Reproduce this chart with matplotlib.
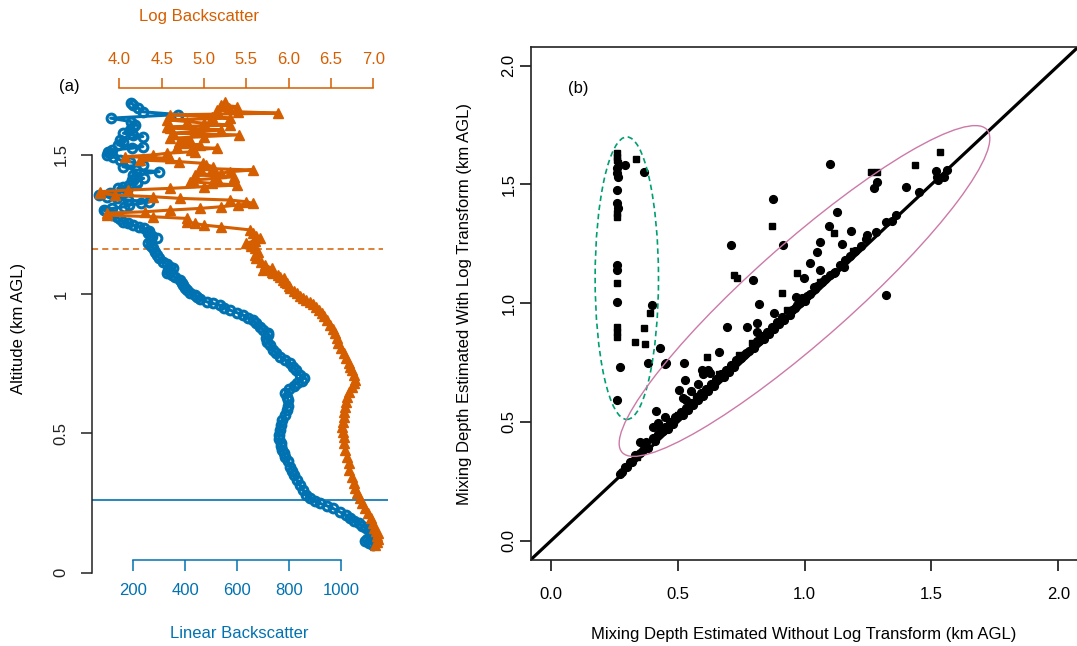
import matplotlib
matplotlib.use('Agg')
import matplotlib.pyplot as plt
from matplotlib.patches import Ellipse

plt.rcParams['font.family'] = ['Liberation Sans', 'DejaVu Sans']
plt.rcParams['font.size'] = 12

BLUE = '#0072B2'
ORANGE = '#D55E00'
GREEN = '#009E73'
PINK = '#CC79A7'

# ---------------- panel (a): backscatter profiles ----------------
blue_alt = [0.100, 0.108, 0.115, 0.122, 0.128, 0.135, 0.145, 0.153, 0.160, 0.168,
            0.177, 0.186, 0.195, 0.207, 0.218, 0.231, 0.240, 0.249, 0.258, 0.267,
            0.280, 0.297, 0.315, 0.333, 0.350, 0.365, 0.381, 0.400, 0.417, 0.430,
            0.441, 0.455, 0.465, 0.480, 0.495, 0.512, 0.530, 0.548, 0.565, 0.584,
            0.600, 0.620, 0.632, 0.644, 0.660, 0.672, 0.680, 0.690, 0.698, 0.710,
            0.728, 0.740, 0.752, 0.765, 0.776, 0.788, 0.800, 0.818, 0.830, 0.842,
            0.852, 0.860, 0.872, 0.883, 0.895, 0.907, 0.916, 0.925, 0.934, 0.943,
            0.952, 0.961, 0.967, 0.973, 0.982, 0.990, 0.997, 1.006, 1.015, 1.024,
            1.033, 1.042, 1.051, 1.060, 1.069, 1.075, 1.081, 1.087, 1.093, 1.099,
            1.108, 1.117, 1.129, 1.141, 1.153, 1.165, 1.174, 1.183, 1.192, 1.201,
            1.210, 1.219, 1.228, 1.237, 1.243, 1.248, 1.254, 1.260, 1.269, 1.278,
            1.285, 1.291, 1.297, 1.302, 1.308, 1.314, 1.320, 1.326, 1.332, 1.338,
            1.344, 1.350, 1.356, 1.362, 1.368, 1.374, 1.380, 1.386, 1.392, 1.398,
            1.404, 1.410, 1.416, 1.422, 1.428, 1.440, 1.446, 1.458, 1.464, 1.476,
            1.482, 1.494, 1.500, 1.506, 1.512, 1.518, 1.524, 1.530, 1.536, 1.548,
            1.554, 1.566, 1.572, 1.578, 1.590, 1.602, 1.608, 1.620, 1.632, 1.645,
            1.655, 1.668, 1.680, 1.688]
blue_lin = [1120, 1105, 1092, 1100, 1118, 1122, 1115, 1108, 1095, 1080,
            1068, 1050, 1035, 1018, 995, 968, 945, 918, 898, 880,
            866, 852, 840, 828, 818, 812, 803, 795, 785, 780,
            772, 768, 770, 762, 760, 764, 768, 772, 782, 790,
            795, 796, 790, 783, 800, 818, 830, 848, 855, 840,
            826, 815, 803, 785, 764, 750, 738, 726, 715, 712,
            720, 718, 700, 686, 672, 660, 640, 622, 598, 572,
            550, 533, 505, 482, 458, 445, 437, 418, 405, 398,
            392, 388, 380, 362, 348, 330, 340, 335, 352, 342,
            328, 315, 300, 290, 282, 277, 268, 258, 270, 290,
            272, 258, 262, 240, 222, 200, 180, 162, 148, 136,
            120, 110, 96, 88, 120, 165, 182, 230, 262, 180,
            136, 100, 70, 110, 155, 175, 140, 162, 185, 215,
            213, 195, 240, 210, 200, 300, 210, 160, 237, 187,
            150, 122, 100, 110, 104, 118, 194, 237, 140, 160,
            150, 237, 200, 162, 187, 199, 205, 190, 113, 372,
            237, 220, 200, 190]

orange_alt = [0.099, 0.110, 0.120, 0.131, 0.141, 0.150, 0.160, 0.177, 0.195, 0.213,
              0.231, 0.249, 0.267, 0.285, 0.303, 0.321, 0.345, 0.369, 0.393, 0.417,
              0.441, 0.465, 0.488, 0.506, 0.524, 0.542, 0.560, 0.578, 0.596, 0.614,
              0.632, 0.650, 0.668, 0.680, 0.692, 0.710, 0.728, 0.740, 0.752, 0.770,
              0.788, 0.806, 0.824, 0.842, 0.860, 0.875, 0.889, 0.907, 0.920, 0.931,
              0.943, 0.955, 0.964, 0.973, 0.979, 0.985, 0.994, 1.003, 1.012, 1.021,
              1.030, 1.039, 1.045, 1.051, 1.057, 1.063, 1.069, 1.075, 1.081, 1.087,
              1.093, 1.105, 1.117, 1.129, 1.141, 1.153, 1.165, 1.174, 1.183, 1.192,
              1.201, 1.210, 1.220, 1.231, 1.242, 1.248, 1.254, 1.260, 1.272, 1.278,
              1.284, 1.291, 1.296, 1.302, 1.308, 1.314, 1.320, 1.326, 1.332, 1.338,
              1.344, 1.350, 1.356, 1.362, 1.368, 1.374, 1.380, 1.386, 1.392, 1.398,
              1.404, 1.410, 1.416, 1.422, 1.428, 1.434, 1.440, 1.446, 1.452, 1.458,
              1.464, 1.470, 1.476, 1.482, 1.488, 1.494, 1.500, 1.506, 1.512, 1.518,
              1.524, 1.530, 1.536, 1.542, 1.548, 1.554, 1.560, 1.566, 1.572, 1.578,
              1.584, 1.590, 1.596, 1.601, 1.607, 1.614, 1.620, 1.626, 1.632, 1.638,
              1.644, 1.650, 1.655, 1.661, 1.667, 1.673, 1.680, 1.691]
orange_log = [7.02, 7.05, 7.06, 7.05, 7.06, 7.03, 7.01, 7.00, 6.97, 6.94,
              6.90, 6.87, 6.84, 6.81, 6.79, 6.77, 6.75, 6.72, 6.71, 6.69,
              6.67, 6.66, 6.65, 6.64, 6.63, 6.64, 6.65, 6.66, 6.67, 6.68,
              6.69, 6.72, 6.75, 6.77, 6.79, 6.77, 6.75, 6.73, 6.71, 6.68,
              6.65, 6.62, 6.59, 6.57, 6.55, 6.52, 6.49, 6.45, 6.42, 6.39,
              6.36, 6.33, 6.29, 6.25, 6.21, 6.17, 6.13, 6.10, 6.06, 6.02,
              6.00, 5.98, 5.96, 5.93, 5.95, 5.90, 5.88, 5.82, 5.80, 5.70,
              5.80, 5.72, 5.68, 5.62, 5.60, 5.64, 5.60, 5.56, 5.50, 5.60,
              5.66, 5.62, 5.58, 5.54, 5.20, 5.00, 4.90, 4.80, 4.80, 4.40,
              3.85, 3.85, 4.30, 4.60, 4.95, 5.20, 5.40, 5.58, 5.50, 5.31,
              4.72, 4.40, 3.95, 3.77, 3.77, 4.10, 4.60, 5.00, 5.39, 5.10,
              4.84, 4.87, 5.15, 5.35, 4.90, 5.20, 5.31, 5.58, 4.95, 5.11,
              5.03, 4.99, 4.70, 4.24, 4.60, 4.07, 4.40, 4.56, 4.90, 4.85,
              5.15, 4.68, 4.95, 4.75, 4.70, 4.84, 4.60, 5.00, 5.41, 4.64,
              4.90, 5.20, 4.60, 4.56, 5.31, 5.00, 4.80, 4.56, 5.31, 5.10,
              4.60, 5.88, 5.40, 5.15, 5.30, 5.39, 5.20, 5.25]

log_mixing_depth = 1.162
linear_mixing_depth = 0.26

alt_ticks = [0, 0.5, 1, 1.5]
alt_ticklabels = ['0', '0.5', '1', '1.5']
lin_ticks = [200, 400, 600, 800, 1000]
lin_ticklabels = ['200', '400', '600', '800', '1000']
log_ticks = [4.0, 4.5, 5.0, 5.5, 6.0, 6.5, 7.0]
log_ticklabels = ['4.0', '4.5', '5.0', '5.5', '6.0', '6.5', '7.0']

# ---------------- panel (b): mixing depth comparison ----------------
circle_x = [0.26, 0.26, 0.262, 0.26, 0.26, 0.262, 0.26, 0.26, 0.26, 0.272, 0.26,
            0.292, 0.364, 0.397, 0.430, 0.381, 0.450,
            1.099, 1.517, 1.287, 1.273, 1.398, 1.550, 1.524, 0.874, 1.128, 1.095,
            1.181, 1.247, 1.346, 0.711, 0.915, 1.060, 1.049, 1.148, 1.020, 1.062,
            0.796, 0.996, 1.319, 0.819, 0.964, 0.694, 0.773, 0.812, 0.660, 0.522,
            0.454, 0.529, 0.503, 0.533, 0.414, 0.423, 0.351, 0.375, 0.595, 0.628,
            0.746, 0.812, 0.878, 1.036, 1.115, 1.155,
            0.27, 0.28, 0.29, 0.30, 0.31, 0.32, 0.33, 0.35, 0.36, 0.37, 0.38, 0.40,
            0.41, 0.42, 0.44, 0.45, 0.46, 0.47, 0.48, 0.49, 0.51, 0.52, 0.53, 0.54,
            0.55, 0.56, 0.58, 0.59, 0.60, 0.61, 0.62, 0.63, 0.64, 0.65, 0.67, 0.68,
            0.69, 0.70, 0.71, 0.72, 0.73, 0.75, 0.76, 0.77, 0.78, 0.80, 0.81, 0.82,
            0.83, 0.84, 0.85, 0.86, 0.87, 0.88, 0.89, 0.90, 0.91, 0.92, 0.94, 0.95,
            0.96, 0.97, 0.98, 0.99, 1.00, 1.01, 1.02, 1.04, 1.05, 1.07, 1.08, 1.10,
            1.12, 1.14, 1.16, 1.18, 1.20, 1.22, 1.24, 1.28, 1.32, 1.36, 1.45, 1.52,
            1.56, 0.40, 0.45, 0.52, 0.55, 0.58, 0.60, 0.62]
circle_y = [1.568, 1.547, 1.532, 1.476, 1.420, 1.399, 1.160, 1.139, 1.006, 0.732, 0.592,
            1.582, 1.551, 0.992, 0.810, 0.749, 0.744,
            1.585, 1.556, 1.511, 1.486, 1.490, 1.532, 1.519, 1.437, 1.382, 1.325,
            1.304, 1.287, 1.346, 1.245, 1.245, 1.259, 1.217, 1.248, 1.168, 1.139,
            1.097, 1.104, 1.034, 0.996, 1.027, 0.901, 0.901, 0.918, 0.795, 0.746,
            0.749, 0.676, 0.634, 0.592, 0.547, 0.494, 0.416, 0.416, 0.718, 0.704,
            0.774, 0.880, 0.957, 1.069, 1.126, 1.153,
            0.28, 0.29, 0.31, 0.31, 0.33, 0.33, 0.36, 0.37, 0.38, 0.40, 0.39, 0.43,
            0.42, 0.45, 0.46, 0.48, 0.47, 0.50, 0.49, 0.52, 0.54, 0.53, 0.56, 0.55,
            0.58, 0.57, 0.59, 0.62, 0.61, 0.64, 0.63, 0.66, 0.65, 0.68, 0.70, 0.69,
            0.72, 0.71, 0.74, 0.73, 0.76, 0.77, 0.78, 0.79, 0.80, 0.81, 0.84, 0.84,
            0.86, 0.85, 0.88, 0.87, 0.90, 0.89, 0.92, 0.91, 0.94, 0.93, 0.95, 0.97,
            0.98, 0.99, 1.00, 1.02, 1.01, 1.03, 1.04, 1.06, 1.07, 1.09, 1.10, 1.12,
            1.13, 1.16, 1.18, 1.20, 1.22, 1.24, 1.27, 1.30, 1.34, 1.37, 1.47, 1.53,
            1.56, 0.48, 0.52, 0.60, 0.63, 0.66, 0.70, 0.72]
square_x = [0.26, 0.26, 0.26, 0.262, 0.26, 0.26, 0.26, 0.26, 0.26, 0.26,
            0.335, 0.388, 0.364, 0.329, 0.371,
            1.260, 1.287, 1.534, 1.434, 0.869, 1.115, 0.968, 0.720, 0.733, 0.911,
            0.615,
            0.43, 0.57, 0.66, 0.79, 0.93, 1.06, 1.19, 0.34, 0.50, 0.74]
square_y = [1.631, 1.617, 1.603, 1.589, 1.378, 1.364, 1.083, 0.901, 0.880, 0.858,
            1.607, 0.960, 0.894, 0.838, 0.828,
            1.554, 1.554, 1.638, 1.582, 1.326, 1.294, 1.126, 1.118, 1.104, 1.044,
            0.774,
            0.47, 0.61, 0.70, 0.83, 0.97, 1.09, 1.22, 0.35, 0.53, 0.78]

depth_ticks = [0.0, 0.5, 1.0, 1.5, 2.0]
depth_ticklabels = ['0.0', '0.5', '1.0', '1.5', '2.0']

green_center = (0.298, 1.105)
green_width = 0.25
green_height = 1.19
pink_center = (0.999, 1.051)
pink_width = 1.98
pink_height = 0.40
pink_angle = 43.5

# ---------------- figure ----------------
W, H = 1077, 646
fig = plt.figure(figsize=(W / 100, H / 100), dpi=100)


def rect(x0, y0, x1, y1):
    return [x0 / W, 1 - y1 / H, (x1 - x0) / W, (y1 - y0) / H]


def fxy(x, y):
    return x / W, 1 - y / H


# panel (a)
ax1 = fig.add_axes(rect(92, 80, 388, 590))
ax1.patch.set_visible(False)
ax1.plot(blue_lin, blue_alt, color=BLUE, lw=2.2, marker='o', ms=6.3,
         mfc='none', mew=2.2, zorder=2)
ax1.set_xlim(41.2, 1179.6)
ax1.set_ylim(-0.0621, 1.7691)
ax1.axhline(linear_mixing_depth, color=BLUE, lw=1.2, zorder=1)
ax1.axhline(log_mixing_depth, xmax=0.983, color=ORANGE, lw=1.1,
            ls=(0, (4, 2.7)), zorder=1)
for s in ['right', 'top']:
    ax1.spines[s].set_visible(False)
ax1.spines['left'].set_bounds(0, 1.5)
ax1.spines['left'].set_color('#222222')
ax1.spines['left'].set_linewidth(1.1)
ax1.spines['bottom'].set_position(('axes', (590 - 560) / 510))
ax1.spines['bottom'].set_bounds(200, 1000)
ax1.spines['bottom'].set_color(BLUE)
ax1.spines['bottom'].set_linewidth(1.1)
ax1.set_xticks(lin_ticks, lin_ticklabels, va='center')
ax1.tick_params(axis='x', colors=BLUE, length=7.9, width=1.1, pad=14.4)
ax1.set_yticks(alt_ticks, alt_ticklabels, rotation=90, va='center', ha='center')
ax1.tick_params(axis='y', colors='#222222', length=7.9, width=1.1, pad=14.2)

ax2 = ax1.twiny()
ax2.patch.set_visible(False)
ax2.plot(orange_log, orange_alt, color=ORANGE, lw=2.2, marker='^', ms=6.8,
         mew=1.0, zorder=3)
ax2.set_xlim(3.677, 7.175)
for s in ['right', 'left', 'bottom']:
    ax2.spines[s].set_visible(False)
ax2.spines['top'].set_position(('axes', (590 - 88) / 510))
ax2.spines['top'].set_bounds(4.0, 7.0)
ax2.spines['top'].set_color(ORANGE)
ax2.spines['top'].set_linewidth(1.1)
ax2.set_xticks(log_ticks, log_ticklabels, va='center')
ax2.tick_params(axis='x', colors=ORANGE, length=7.2, width=1.1, pad=13.2)

fig.text(*fxy(199, 16), 'Log Backscatter', color=ORANGE, ha='center', va='center')
fig.text(*fxy(239, 633), 'Linear Backscatter', color=BLUE, ha='center', va='center')
fig.text(*fxy(19, 328), 'Altitude (km AGL)', rotation=90, ha='center', va='center')
fig.text(*fxy(69, 87), '(a)', ha='center', va='center')

# panel (b)
ax3 = fig.add_axes(rect(531, 46.7, 1078.5, 559.5))
ax3.axline((0, 0), slope=1, color='black', lw=2.3, zorder=2)
ax3.plot(circle_x, circle_y, 'o', color='black', ms=5.6, zorder=3)
ax3.plot(square_x, square_y, 's', color='black', ms=5.0, zorder=3)
ax3.add_patch(Ellipse(green_center, green_width, green_height, angle=0,
                      fill=False, ec=GREEN, lw=1.2, ls=(0, (3.3, 2.2)), zorder=4))
ax3.add_patch(Ellipse(pink_center, pink_width, pink_height, angle=pink_angle,
                      fill=False, ec=PINK, lw=1.0, zorder=4))
ax3.set_xlim(-0.08, 2.08)
ax3.set_ylim(-0.08, 2.08)
for s in ax3.spines.values():
    s.set_linewidth(1.2)
    s.set_color('#222222')
ax3.set_xticks(depth_ticks, depth_ticklabels, va='center')
ax3.tick_params(axis='x', length=7.9, width=1.1, pad=17.6)
ax3.set_yticks(depth_ticks, depth_ticklabels, rotation=90, va='center', ha='center')
ax3.tick_params(axis='y', length=7.9, width=1.1, pad=7.9)

fig.text(*fxy(578, 89), '(b)', ha='center', va='center')
fig.text(*fxy(804, 634), 'Mixing Depth Estimated Without Log Transform (km AGL)',
         ha='center', va='center')
fig.text(*fxy(465, 304), 'Mixing Depth Estimated With Log Transform (km AGL)',
         rotation=90, ha='center', va='center')

fig.savefig('out.png', dpi=100)
